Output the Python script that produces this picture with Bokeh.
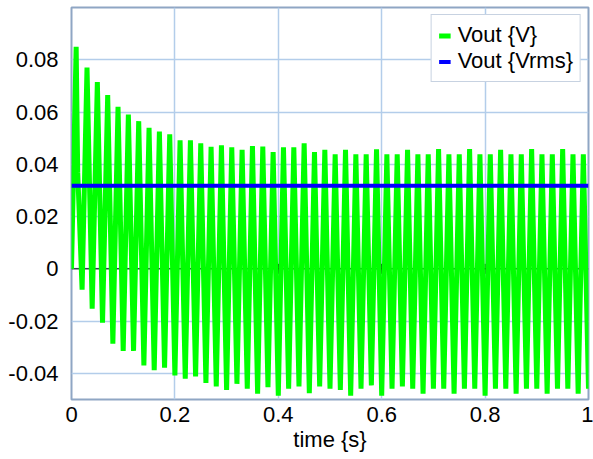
import math
from bokeh.plotting import figure
from bokeh.models import Range1d, FixedTicker, Span, Legend, LegendItem
from bokeh.embed import file_html
from bokeh.resources import INLINE

# ---- data ----
time_s = [
    0.0, 0.009, 0.012, 0.0205,
    0.03, 0.04, 0.05, 0.06, 0.07, 0.08, 0.09, 0.10, 0.11, 0.12,
    0.13, 0.14, 0.15, 0.16, 0.17, 0.18, 0.19, 0.20, 0.21, 0.22,
    0.23, 0.24, 0.25, 0.26, 0.27, 0.28, 0.29, 0.30, 0.31, 0.32,
    0.33, 0.34, 0.35, 0.36, 0.37, 0.38, 0.39, 0.40, 0.41, 0.42,
    0.43, 0.44, 0.45, 0.46, 0.47, 0.48, 0.49, 0.50, 0.51, 0.52,
    0.53, 0.54, 0.55, 0.56, 0.57, 0.58, 0.59, 0.60, 0.61, 0.62,
    0.63, 0.64, 0.65, 0.66, 0.67, 0.68, 0.69, 0.70, 0.71, 0.72,
    0.73, 0.74, 0.75, 0.76, 0.77, 0.78, 0.79, 0.80, 0.81, 0.82,
    0.83, 0.84, 0.85, 0.86, 0.87, 0.88, 0.89, 0.90, 0.91, 0.92,
    0.93, 0.94, 0.95, 0.96, 0.97, 0.98, 0.99, 1.00,
]
vout_v = [
    0.0, 0.085, 0.037, -0.008,
    0.077, -0.0153, 0.0715, -0.0206, 0.0665, -0.0286, 0.062, -0.0314, 0.059, -0.0314,
    0.0565, -0.037, 0.054, -0.0388, 0.0525, -0.0378, 0.0515, -0.0408, 0.0492, -0.042,
    0.0492, -0.0412, 0.048, -0.0437, 0.0467, -0.045, 0.0473, -0.0463, 0.0465, -0.044,
    0.0455, -0.0459, 0.047, -0.0478, 0.0468, -0.0453, 0.0447, -0.0485, 0.0465, -0.0459,
    0.0465, -0.045, 0.048, -0.0476, 0.0447, -0.045, 0.0455, -0.0459, 0.0438, -0.0463,
    0.0455, -0.0485, 0.0438, -0.0459, 0.0438, -0.0446, 0.0457, -0.0485, 0.0438, -0.0459,
    0.0438, -0.045, 0.0455, -0.0459, 0.0438, -0.0478, 0.0438, -0.0459, 0.0458, -0.0459,
    0.0438, -0.0478, 0.0438, -0.0459, 0.0458, -0.0459, 0.0438, -0.0485, 0.0438, -0.0459,
    0.0455, -0.0459, 0.0438, -0.0478, 0.0438, -0.0459, 0.0458, -0.0459, 0.0438, -0.0478,
    0.0438, -0.0459, 0.0458, -0.0459, 0.0438, -0.0478, 0.0438, -0.0459,
]
vrms_time_s = [0.0, 1.0]
vrms_v = [0.0318, 0.0318]

x_ticks = [0, 0.2, 0.4, 0.6, 0.8, 1]
x_tick_labels = ["0", "0.2", "0.4", "0.6", "0.8", "1"]
y_ticks = [-0.04, -0.02, 0, 0.02, 0.04, 0.06, 0.08]
y_tick_labels = ["-0.04", "-0.02", "0", "0.02", "0.04", "0.06", "0.08"]
series_names = ["Vout {V}", "Vout {Vrms}"]
x_label = "time {s}"

FONT = "Liberation Sans"
FS = "22px"
GRID = "#b3cdea"
FRAME = "#8fa6c4"

p = figure(
    frame_width=517, frame_height=392,
    x_range=Range1d(0, 1), y_range=Range1d(-0.05, 0.1),
    output_backend="svg", toolbar_location=None,
    min_border_left=71, min_border_right=5, min_border_top=7, min_border_bottom=10,
    background_fill_color="white", border_fill_color="white",
)
p.outline_line_color = FRAME
p.outline_line_width = 2

for ax in (p.xaxis[0], p.yaxis[0]):
    ax.axis_line_color = None
    ax.major_tick_line_color = None
    ax.minor_tick_line_color = None
    ax.major_tick_out = 0
    ax.major_tick_in = 0
    ax.major_label_text_font = FONT
    ax.major_label_text_font_size = FS
    ax.major_label_text_color = "black"

p.xaxis[0].ticker = FixedTicker(ticks=x_ticks)
p.xaxis[0].major_label_overrides = dict(zip(x_ticks, x_tick_labels))
p.xaxis[0].major_label_standoff = 7
p.xaxis[0].axis_label = x_label
p.xaxis[0].axis_label_text_font = FONT
p.xaxis[0].axis_label_text_font_size = FS
p.xaxis[0].axis_label_text_font_style = "normal"
p.xaxis[0].axis_label_text_color = "black"
p.xaxis[0].axis_label_standoff = 2

p.yaxis[0].ticker = FixedTicker(ticks=y_ticks)
p.yaxis[0].major_label_overrides = dict(zip(y_ticks, y_tick_labels))
p.yaxis[0].major_label_standoff = 13

p.xgrid[0].ticker = FixedTicker(ticks=x_ticks)
p.ygrid[0].ticker = FixedTicker(ticks=y_ticks)
for g in (p.xgrid[0], p.ygrid[0]):
    g.grid_line_color = GRID
    g.grid_line_width = 1.5

zero = Span(location=0, dimension="width", line_color="black", line_width=1, level="underlay")
p.add_layout(zero)
p.scatter(x=x_ticks[1:-1], y=[0] * (len(x_ticks) - 2), marker="dash", angle=math.pi / 2,
          size=10, line_color="black", line_width=1)

r1 = p.line(time_s, vout_v, line_color="#00ff00", line_width=5)
r2 = p.line(vrms_time_s, vrms_v, line_color="#0000ff", line_width=4)

legend = Legend(items=[LegendItem(label=series_names[0], renderers=[r1]),
                       LegendItem(label=series_names[1], renderers=[r2])],
                location="top_right")
legend.label_text_font = FONT
legend.label_text_font_size = FS
legend.label_text_color = "black"
legend.glyph_width = 12
legend.glyph_height = 25
legend.label_height = 25
legend.label_standoff = 7
legend.padding = 7
legend.spacing = 0
legend.margin = 7
legend.border_line_color = FRAME
legend.border_line_width = 1.5
legend.background_fill_color = "white"
legend.background_fill_alpha = 1
p.add_layout(legend, "center")

open("out.html", "w").write(file_html(p, INLINE))
